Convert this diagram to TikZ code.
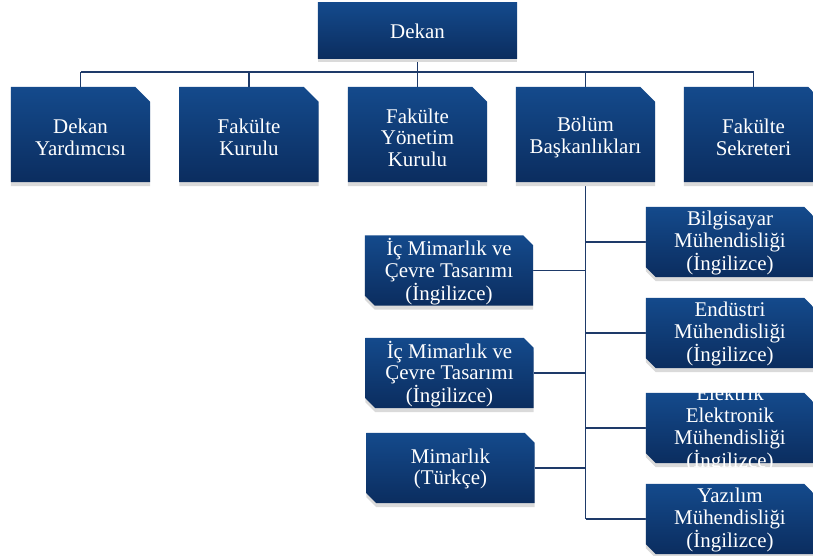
\documentclass[tikz,border=0pt]{standalone}
\usepackage{fontspec}
\setmainfont{Liberation Serif}
\newfontfamily\orgserif{Liberation Serif}
\usetikzlibrary{shadows}
\definecolor{boxtop}{RGB}{20,74,140}
\definecolor{boxbot}{RGB}{11,45,95}
\definecolor{linec}{RGB}{30,58,105}
\definecolor{shadowc}{RGB}{218,218,218}
\tikzset{
  orgfont/.style={font=\orgserif\fontsize{21}{21.7}\selectfont},
  orgfill/.style={top color=boxtop, bottom color=boxbot, draw=none,
    drop shadow={shadow xshift=0bp, shadow yshift=-4bp, fill=shadowc, opacity=1}},
  frame/.style={rectangle, draw=none, inner sep=0pt},
  headbox/.style={frame, minimum width=199bp, minimum height=55bp},
  topbox/.style={frame, minimum width=139bp, minimum height=95bp},
  subbox/.style={frame, minimum width=168bp, minimum height=70bp},
  lbl/.style={text=white, align=center, orgfont, inner sep=0pt},
  link/.style={draw=linec, line width=1.6bp}
}
\newcommand\orgplainshape[1]{\path[orgfill] (#1.south west) rectangle (#1.north east);}
\newcommand\orgtopshape[1]{\path[orgfill] (#1.south west) -- (#1.north west)
  -- ([xshift=-15bp]#1.north east) -- ([yshift=-15bp]#1.north east)
  -- (#1.south east) -- cycle;}
\newcommand\orgsubshape[1]{\path[orgfill] (#1.north west)
  -- ([xshift=-10bp]#1.north east) -- ([yshift=-10bp]#1.north east)
  -- (#1.south east) -- ([xshift=10bp]#1.south west)
  -- ([yshift=10bp]#1.south west) -- cycle;}
\begin{document}
\begin{tikzpicture}[x=1bp,y=-1bp]
\useasboundingbox (0,0) rectangle (813,556);
\clip (0,0) rectangle (813,556);
% frames
\node[headbox] (dekan) at (417.5,30.5) {};
\node[topbox] (yard) at (80.5,134.5) {};
\node[topbox] (kurul) at (249,134.5) {};
\node[topbox] (yonetim) at (417.5,134.5) {};
\node[topbox] (bolum) at (585.5,134.5) {};
\node[topbox] (sekreter) at (753.5,134.5) {};
\node[subbox] (bilg) at (730,242) {};
\node[subbox] (endu) at (730,333) {};
\node[subbox] (elek) at (730,428) {};
\node[subbox] (yaz) at (730,519) {};
\node[subbox] (ic1) at (449,270.5) {};
\node[subbox] (ic2) at (449.5,373) {};
\node[subbox] (mim) at (450.5,468) {};
% connectors
\coordinate (busL) at (80.5,72);
\coordinate (busR) at (753.5,72);
\coordinate (trunk) at (586,519);
\draw[link] (busL) -- (busR);
\draw[link] (dekan.south) -- (dekan.south |- busL);
\foreach \n in {yard,kurul,yonetim,bolum,sekreter}
  \draw[link] (\n.north) -- (\n.north |- busL);
\draw[link] (bolum.south) -- (bolum.south |- trunk);
\foreach \n in {bilg,endu,elek,yaz}
  \draw[link] (\n.west) -- (\n.west -| trunk);
\foreach \n in {ic1,ic2,mim}
  \draw[link] (\n.east) -- (\n.east -| trunk);
% shapes
\orgplainshape{dekan}
\foreach \n in {yard,kurul,yonetim,bolum,sekreter} {\orgtopshape{\n}}
\foreach \n in {bilg,endu,elek,yaz,ic1,ic2,mim} {\orgsubshape{\n}}
% labels
\node[lbl] (dekantxt) at ([yshift=-1bp]dekan.center) {Dekan};
\node[lbl] (yardtxt) at ([yshift=-3bp]yard.center) {Dekan\\Yardımcısı};
\node[lbl] (kurultxt) at ([yshift=-3bp]kurul.center) {Fakülte\\Kurulu};
\node[lbl] (yonetimtxt) at ([yshift=-3bp]yonetim.center) {Fakülte\\Yönetim\\Kurulu};
\node[lbl] (bolumtxt) at ([yshift=-3bp]bolum.center) {Bölüm\\Başkanlıkları};
\node[lbl] (sekretertxt) at ([yshift=-3bp]sekreter.center) {Fakülte\\Sekreteri};
\node[lbl] (bilgtxt) at ([yshift=-1bp]bilg.center) {Bilgisayar\\Mühendisliği\\(İngilizce)};
\node[lbl] (endutxt) at ([yshift=-1bp]endu.center) {Endüstri\\Mühendisliği\\(İngilizce)};
\node[lbl] (elektxt) at ([yshift=-1bp]elek.center) {Elektrik\\Elektronik\\Mühendisliği\\(İngilizce)};
\node[lbl] (yaztxt) at ([yshift=-1bp]yaz.center) {Yazılım\\Mühendisliği\\(İngilizce)};
\node[lbl] (ic1txt) at ([yshift=-1bp]ic1.center) {İç Mimarlık ve\\Çevre Tasarımı\\(İngilizce)};
\node[lbl] (ic2txt) at ([yshift=-1bp]ic2.center) {İç Mimarlık ve\\Çevre Tasarımı\\(İngilizce)};
\node[lbl] (mimtxt) at ([yshift=-1bp]mim.center) {Mimarlık\\(Türkçe)};
\end{tikzpicture}
\end{document}
